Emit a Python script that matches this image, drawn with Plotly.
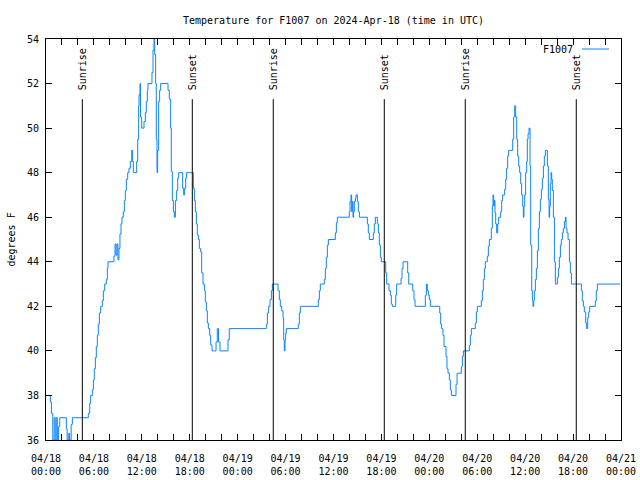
import pandas as pd
import plotly.graph_objects as go

# ---- data (hours since 2024-04-18 00:00 UTC, temperature in F) ----
hours = [
    0.00, 0.55, 0.68, 0.85, 1.02, 1.15, 1.28, 1.42, 1.58, 1.72, 2.55, 2.65, 2.85, 2.95, 3.15, 3.30,
    5.30, 5.47, 5.59, 5.80, 5.93, 6.05, 6.18, 6.30, 6.43, 6.55, 6.68, 6.85, 7.05, 7.18, 7.35, 7.55,
    7.68, 7.76, 8.51, 8.64, 8.76, 8.89, 9.01, 9.14, 9.26, 9.39, 9.51, 9.68, 9.81, 9.93, 10.06, 10.23,
    10.39, 10.56, 10.73, 10.85, 10.94, 11.35, 11.48, 11.60, 11.65, 11.77, 11.83, 11.98, 12.27, 12.44,
    12.56, 12.69, 12.77, 13.27, 13.40, 13.52, 13.61, 13.73, 13.81, 13.90, 13.98, 14.11, 14.23, 14.36,
    15.28, 15.44, 15.61, 15.69, 15.82, 15.95, 16.07, 16.20, 16.36, 16.49, 16.61, 17.11, 17.24, 17.36,
    17.49, 17.61, 18.45, 18.58, 18.70, 18.83, 18.95, 19.08, 19.20, 19.37, 19.49, 19.66, 19.83, 19.95,
    20.08, 20.20, 20.33, 20.50, 20.62, 20.79, 21.29, 21.45, 21.60, 21.79, 22.79, 22.95,
    27.59, 27.72, 27.88, 28.05, 28.22, 28.34, 29.05, 29.22, 29.34, 29.51, 29.68, 29.76, 29.84, 29.93,
    30.01, 30.09, 31.59, 31.72, 31.85, 34.10, 34.23, 34.35, 34.85, 34.98, 35.10, 35.23, 35.36, 36.23,
    36.36, 36.48, 37.98, 38.07, 38.19, 38.27, 38.36, 38.44, 38.52, 38.61, 38.74, 38.82, 38.99, 39.11,
    39.24, 40.24, 40.36, 40.49, 40.99, 41.11, 41.24, 41.49, 41.62, 41.74, 41.87, 41.99, 42.54, 42.66,
    42.95, 43.12, 43.24, 43.37, 43.79, 43.91, 44.46, 44.58, 44.71, 45.29, 45.42, 45.92, 46.08, 46.21,
    47.50, 47.63, 47.75, 47.88, 48.00, 48.13, 49.30, 49.42, 49.54, 49.71, 49.84, 50.09, 50.21, 50.34,
    50.51, 50.63, 50.76, 51.34, 51.47, 52.01, 52.14, 52.26, 53.01, 53.14, 53.26, 53.76, 53.89, 54.01,
    54.51, 54.64, 54.76, 54.89, 55.01, 55.26, 55.39, 55.52, 55.76, 55.89, 55.97, 56.06, 56.14, 56.22,
    56.31, 56.43, 56.56, 56.68, 56.93, 57.06, 57.18, 57.43, 57.56, 57.68, 57.81, 57.93, 58.44, 58.56,
    58.69, 58.81, 58.94, 59.06, 59.19, 59.31, 59.44, 59.56, 59.69, 59.77, 59.85, 59.94, 60.06, 60.19,
    60.27, 60.36, 60.48, 60.61, 60.69, 60.82, 60.90, 60.98, 61.07, 61.15, 61.28, 61.40, 61.53, 61.65,
    61.78, 61.90, 62.03, 62.15, 62.28, 62.40, 62.53, 62.78, 62.90, 62.99, 63.07, 63.15, 63.24, 63.32,
    63.40, 63.53, 63.66, 63.78, 64.03, 64.16, 64.28, 64.41, 64.53, 64.66, 64.78, 64.91, 65.04, 65.12,
    65.24, 65.37, 65.54, 65.66, 65.79, 67.04, 67.16, 67.29, 67.41, 67.58, 67.70, 67.83, 67.95, 68.08,
    68.79, 68.91, 69.04, 71.88,
]
temps = [
    38.0, 37.7, 37.2, 36.0, 37.0, 36.0, 37.0, 36.0, 36.6, 37.0, 36.5, 36.0, 36.3, 36.0, 36.7, 37.0,
    37.2, 37.65, 38.0, 38.25, 38.7, 39.2, 39.7, 40.2, 40.7, 41.2, 41.7, 42.0, 42.25, 42.7, 43.0, 43.2,
    43.7, 44.0, 44.25, 44.8, 44.3, 44.8, 44.1, 44.6, 45.25, 45.7, 46.0, 46.25, 46.75, 47.2, 47.7, 48.0,
    48.2, 48.5, 49.0, 48.5, 48.0, 48.5, 49.5, 51.0, 51.5, 52.0, 50.5, 50.0, 50.3, 50.7,
    51.2, 51.7, 52.0, 52.5, 53.5, 54.0, 53.3, 52.0, 49.5, 48.0, 49.0, 51.2, 51.7, 52.0,
    51.7, 51.3, 50.0, 48.05, 46.75, 46.25, 46.0, 46.75, 47.2, 47.75, 48.0, 47.3, 47.0, 47.3,
    47.75, 48.0, 47.3, 46.75, 46.25, 45.7, 45.2, 45.0, 44.6, 44.45, 43.5, 43.0, 42.7, 42.2,
    41.8, 41.25, 41.0, 40.7, 40.27, 40.0, 40.4, 41.0, 40.4, 40.0, 40.5, 41.0,
    41.2, 41.7, 42.0, 42.3, 42.7, 43.0, 42.7, 42.3, 42.0, 41.8, 41.5, 40.5, 40.0, 40.5,
    40.8, 41.0, 41.2, 41.7, 42.0, 42.3, 42.7, 43.0, 43.2, 43.7, 44.2, 44.75, 45.0, 45.3,
    45.75, 46.0, 46.25, 46.7, 47.0, 46.25, 46.7, 46.0, 46.25, 46.7, 46.85, 47.0, 46.7, 46.25,
    46.0, 45.7, 45.3, 45.0, 45.3, 45.7, 46.0, 45.7, 45.3, 44.75, 44.2, 44.0, 43.5, 43.0,
    42.7, 42.5, 42.1, 42.0, 42.5, 43.0, 43.25, 43.7, 44.0, 43.5, 43.0, 42.7, 42.3, 42.0,
    42.5, 43.0, 42.7, 42.5, 42.3, 42.0, 41.7, 41.2, 41.0, 40.7, 40.2, 39.75, 39.2, 39.0,
    38.7, 38.25, 38.0, 38.5, 39.0, 39.3, 39.75, 40.0, 40.25, 40.7, 41.0, 41.25, 41.75, 42.0,
    42.25, 42.7, 43.2, 43.7, 44.0, 44.25, 44.7, 45.0, 45.5, 46.5, 47.0, 46.5, 46.75, 46.2,
    45.7, 45.3, 45.7, 46.0, 46.25, 46.75, 47.0, 47.25, 47.7, 48.2, 48.75, 49.0, 49.5, 50.5,
    51.0, 50.5, 49.5, 48.75, 48.3, 48.0, 47.5, 47.0, 46.5, 46.0, 46.5, 47.0, 48.0, 48.5,
    49.5, 49.75, 50.0, 48.3, 44.75, 42.7, 42.25, 42.0, 42.25, 42.7, 43.2, 43.7, 44.5, 45.5,
    46.25, 46.8, 47.25, 47.75, 48.3, 48.75, 49.0, 48.3, 46.8, 46.0, 46.5, 47.5, 48.0, 47.7,
    47.2, 46.0, 44.0, 43.0, 43.3, 43.7, 44.2, 44.75, 45.0, 45.3, 45.5, 45.8, 46.0, 45.5,
    45.3, 45.0, 44.0, 43.5, 43.0, 42.7, 42.25, 42.0, 41.75, 41.25, 41.0, 41.5, 41.75, 42.0,
    42.25, 42.7, 43.0, 43.0,
]

sun_event_hours = [4.55, 18.32, 28.46, 42.36, 52.50, 66.40]
sun_event_labels = ["Sunrise", "Sunset", "Sunrise", "Sunset", "Sunrise", "Sunset"]

y_ticks = [36, 38, 40, 42, 44, 46, 48, 50, 52, 54]
x_tick_hours = list(range(0, 73, 2))
x_label_every = 6

series_name = "F1007"
title_text = "Temperature for F1007 on 2024-Apr-18 (time in UTC)"
y_title = "degrees F"

# ---- build ----
base = pd.Timestamp("2024-04-18 00:00")
times = [base + pd.Timedelta(hours=h) for h in hours]
sun_times = [base + pd.Timedelta(hours=h) for h in sun_event_hours]
tick_times = [base + pd.Timedelta(hours=h) for h in x_tick_hours]
tick_text = [
    (t.strftime("%m/%d") + "<br>" + t.strftime("%H:%M")) if (h % x_label_every == 0) else ""
    for h, t in zip(x_tick_hours, tick_times)
]

FONT = "DejaVu Sans Mono"
LINE_COLOR = "#0a84ff"

FIG_W, FIG_H = 640, 480
ML, MR, MT, MB = 46, 19, 39, 40
PLOT_W = FIG_W - ML - MR

fig = go.Figure()
fig.add_trace(go.Scatter(
    x=times, y=temps, mode="lines", name=series_name,
    line=dict(color=LINE_COLOR, width=1, shape="hv"),
    showlegend=False,
))

for t, lab in zip(sun_times, sun_event_labels):
    fig.add_shape(type="line", xref="x", yref="y", x0=t, x1=t, y0=36, y1=51.3,
                  line=dict(color="black", width=1))
    fig.add_annotation(x=t, y=51.62, xref="x", yref="y", text=lab, textangle=-90,
                       showarrow=False, xanchor="center", yanchor="bottom",
                       font=dict(family=FONT, size=10, color="black"))

# legend drawn gnuplot style (text left of sample)
fig.add_annotation(x=0.92, y=0.975, xref="paper", yref="paper", text=series_name,
                   showarrow=False, xanchor="right", yanchor="middle",
                   font=dict(family=FONT, size=10, color="black"))
fig.add_shape(type="line", xref="paper", yref="paper", x0=0.9322, x1=0.9791,
              y0=0.975, y1=0.975, line=dict(color=LINE_COLOR, width=1))

# y-axis title (center ~11 px from the figure's left edge)
fig.add_annotation(x=-(ML - 11) / PLOT_W, y=0.5, xref="paper", yref="paper", text=y_title,
                   textangle=-90, showarrow=False, xanchor="center", yanchor="middle",
                   font=dict(family=FONT, size=10, color="black"))

fig.update_layout(
    width=FIG_W, height=FIG_H,
    margin=dict(l=ML, r=MR, t=MT, b=MB, autoexpand=False),
    paper_bgcolor="white", plot_bgcolor="white",
    font=dict(family=FONT, size=10, color="black"),
    hovermode=False,
    title=dict(text=title_text, x=0.5, xref="paper", y=1 - 20 / FIG_H, yref="container",
               xanchor="center", yanchor="middle", automargin=False,
               font=dict(family=FONT, size=10, color="black")),
)
fig.update_xaxes(
    type="date", range=[base, base + pd.Timedelta(hours=72)],
    tickmode="array", tickvals=tick_times, ticktext=tick_text,
    ticks="inside", ticklen=6, tickcolor="black", tickwidth=1,
    showline=True, linecolor="black", linewidth=1, mirror="ticks",
    showgrid=False, zeroline=False, ticklabelstandoff=9, automargin=False,
    ticklabeloverflow="allow",
)
fig.update_yaxes(
    range=[36, 54], tickmode="array", tickvals=y_ticks,
    ticks="inside", ticklen=6, tickcolor="black", tickwidth=1,
    showline=True, linecolor="black", linewidth=1, mirror="ticks",
    showgrid=False, zeroline=False, ticklabelstandoff=4, automargin=False,
)

fig.write_html("out.html", config={"displayModeBar": False},
               post_script="document.body.style.margin='0px';")
